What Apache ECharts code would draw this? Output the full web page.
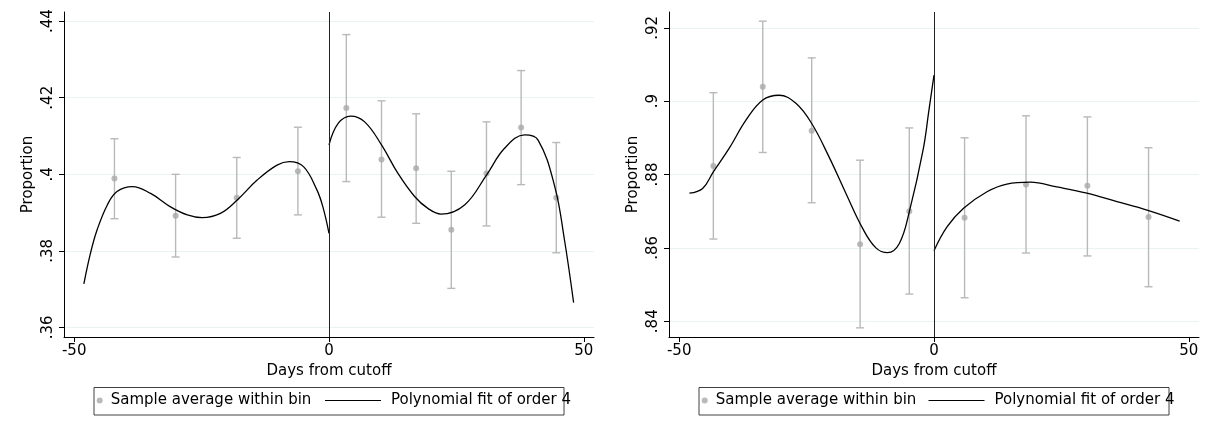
<!DOCTYPE html>
<html><head><meta charset="utf-8">
<script src="https://cdn.jsdelivr.net/npm/echarts@6/dist/echarts.min.js"></script>
<style>html,body{margin:0;padding:0;background:#fff}#c{width:1209px;height:433px}</style>
</head><body><div id="c"></div>
<script>
// ---------- shared axis data ----------
const xTicks = [-50, 0, 50];
const xTickLabels = ['-50', '0', '50'];
const xTitle = 'Days from cutoff';
const yTitle = 'Proportion';
const scatterName = 'Sample average within bin';
const fitName = 'Polynomial fit of order 4';

// ---------- left panel ----------
const leftYTicks = [0.36, 0.38, 0.40, 0.42, 0.44];
const leftYTickLabels = ['.36', '.38', '.4', '.42', '.44'];
const leftBinX = [-42.1, -30.1, -18.1, -6.1, 3.4, 10.3, 17.1, 24.0, 30.9, 37.7, 44.6];
const leftMean = [0.3989, 0.3892, 0.3939, 0.4008, 0.4173, 0.4039, 0.4016, 0.3855, 0.4002, 0.4122, 0.3939];
const leftHi   = [0.4093, 0.4000, 0.4044, 0.4123, 0.4365, 0.4192, 0.4158, 0.4008, 0.4137, 0.4271, 0.4083];
const leftLo   = [0.3884, 0.3784, 0.3833, 0.3894, 0.3981, 0.3888, 0.3872, 0.3702, 0.3865, 0.3973, 0.3795];
const leftFitBeforeX = [-48.1, -46.8, -45.5, -43.5, -41.6, -38.6, -35.0, -31.1, -27.8, -24.9, -21.3, -18.0, -14.1, -10.2, -7.8, -5.0, -2.4, -1.2, 0];
const leftFitBeforeY = [0.3714, 0.3794, 0.3855, 0.3920, 0.3955, 0.3968, 0.3950, 0.3915, 0.3894, 0.3887, 0.3898, 0.3933, 0.3985, 0.4024, 0.4033, 0.4020, 0.3960, 0.3915, 0.3846];
const leftFitAfterX = [0, 1.8, 4.25, 7.0, 10.3, 13.5, 16.8, 19.4, 22.0, 26.6, 30.9, 34.45, 38.4, 41.0, 44.3, 46.2, 48.0];
const leftFitAfterY = [0.4077, 0.4133, 0.4152, 0.4137, 0.4077, 0.4003, 0.3942, 0.3911, 0.3896, 0.3920, 0.3998, 0.4068, 0.4103, 0.4090, 0.3968, 0.3829, 0.3665];

// ---------- right panel ----------
const rightYTicks = [0.84, 0.86, 0.88, 0.90, 0.92];
const rightYTickLabels = ['.84', '.86', '.88', '.9', '.92'];
const rightBinX = [-43.3, -33.6, -24.0, -14.5, -4.85, 6.0, 18.06, 30.1, 42.1];
const rightMean = [0.8823, 0.9039, 0.8919, 0.8610, 0.8700, 0.8682, 0.8773, 0.8769, 0.8684];
const rightHi   = [0.9023, 0.9218, 0.9118, 0.8839, 0.8927, 0.8900, 0.8960, 0.8957, 0.8873];
const rightLo   = [0.8624, 0.8860, 0.8723, 0.8382, 0.8474, 0.8464, 0.8586, 0.8578, 0.8494];
const rightFitBeforeX = [-48.0, -45.4, -43.3, -40.2, -36.9, -33.6, -30.4, -27.1, -24.0, -20.6, -17.3, -14.0, -11.4, -9.1, -6.8, -4.85, -2.1, -1.0, 0];
const rightFitBeforeY = [0.8749, 0.8762, 0.8807, 0.8871, 0.8948, 0.9003, 0.9016, 0.8994, 0.8939, 0.8848, 0.8749, 0.8653, 0.8600, 0.8587, 0.8612, 0.8698, 0.8870, 0.8975, 0.9071];
const rightFitAfterX = [0, 2.55, 5.8, 10.4, 14.3, 18.9, 24.1, 30.0, 35.9, 41.8, 48.2];
const rightFitAfterY = [0.8592, 0.8657, 0.8708, 0.8753, 0.8774, 0.8779, 0.8766, 0.8749, 0.8726, 0.8703, 0.8673];

const cutoff = 0;

// ---------- helpers ----------
const FONT = 'DejaVu Sans';
const zip = (a, b) => a.map((v, i) => [v, b[i]]);
const zip3 = (a, b, c) => a.map((v, i) => [v, b[i], c[i]]);

function xAxisFor(gi) {
  return {
    gridIndex: gi, type: 'value', min: -52, max: 52,
    name: xTitle, nameLocation: 'middle', nameGap: 22,
    nameTextStyle: { fontFamily: FONT, fontSize: 15, color: '#000' },
    axisLine: { show: true, onZero: false, lineStyle: { color: '#000', width: 1 } },
    axisTick: { show: true, length: 5, customValues: xTicks, lineStyle: { color: '#000' } },
    axisLabel: { customValues: xTicks, margin: 7, fontFamily: FONT, fontSize: 15, color: '#000',
      formatter: v => xTickLabels[xTicks.indexOf(v)] },
    splitLine: { show: false }
  };
}
function yAxisFor(gi, min, max, ticks, labels) {
  return {
    gridIndex: gi, type: 'value', min: min, max: max,
    name: yTitle, nameLocation: 'middle', nameGap: 28, nameRotate: 90,
    nameTextStyle: { fontFamily: FONT, fontSize: 15, color: '#000' },
    axisLine: { show: true, onZero: false, lineStyle: { color: '#000', width: 1 } },
    axisTick: { show: true, length: 5, customValues: ticks, lineStyle: { color: '#000' } },
    axisLabel: { customValues: ticks, rotate: 90, margin: 8, fontFamily: FONT, fontSize: 15, color: '#000',
      formatter: v => { let best = 0; ticks.forEach((t, i) => { if (Math.abs(t - v) < Math.abs(ticks[best] - v)) best = i; }); return labels[best]; } },
    splitLine: { show: true, lineStyle: { color: '#eaf2f3', width: 1 } }
  };
}
function errorBars(xi, yi, data) {
  return {
    type: 'custom', name: 'ci', xAxisIndex: xi, yAxisIndex: yi, z: 2, silent: true,
    data: data,
    renderItem: (params, api) => {
      const x = api.value(0), lo = api.value(1), hi = api.value(2);
      const a = api.coord([x, lo]), b = api.coord([x, hi]);
      const w = 4, st = { stroke: '#b9b9b9', lineWidth: 1.4 };
      return { type: 'group', children: [
        { type: 'line', shape: { x1: a[0], y1: a[1], x2: b[0], y2: b[1] }, style: st },
        { type: 'line', shape: { x1: a[0] - w, y1: a[1], x2: a[0] + w, y2: a[1] }, style: st },
        { type: 'line', shape: { x1: b[0] - w, y1: b[1], x2: b[0] + w, y2: b[1] }, style: st }
      ]};
    }
  };
}
function fitLine(xi, yi, data, withCut) {
  const s = {
    type: 'line', name: fitName, xAxisIndex: xi, yAxisIndex: yi, data: data,
    smooth: 0.4, symbol: 'none', showSymbol: false, z: 4,
    lineStyle: { color: '#000', width: 1.3 }, itemStyle: { color: '#000' }
  };
  if (withCut) s.markLine = { silent: true, symbol: 'none', label: { show: false }, animation: false,
    lineStyle: { color: '#222', width: 1, type: 'solid' }, data: [{ xAxis: cutoff }] };
  return s;
}
function scatter(xi, yi, data) {
  return { type: 'scatter', name: scatterName, xAxisIndex: xi, yAxisIndex: yi, data: data,
    symbol: 'circle', symbolSize: 6, itemStyle: { color: '#a9a9a9' }, z: 3 };
}
function legendDot(left) {
  return { left: left, top: 393, padding: 0, itemWidth: 12, itemHeight: 6, selectedMode: false,
    data: [{ name: scatterName, icon: 'circle' }],
    textStyle: { fontFamily: FONT, fontSize: 15, color: '#000' } };
}
function legendLine(left) {
  return { left: left, top: 393, padding: 0, itemWidth: 56, itemHeight: 14, selectedMode: false,
    symbolKeepAspect: true,
    data: [{ name: fitName, icon: 'path://M0,0L56,0L56,1.2L0,1.2Z', itemStyle: { color: '#000' } }],
    textStyle: { fontFamily: FONT, fontSize: 15, color: '#000', padding: [0, 0, 0, 5] } };
}

const chart = echarts.init(document.getElementById('c'), null, { renderer: 'canvas' });
chart.setOption({
  animation: false,
  backgroundColor: '#fff',
  grid: [
    { left: 64, top: 12, width: 530, height: 325 },
    { left: 669, top: 12, width: 530, height: 325 }
  ],
  xAxis: [xAxisFor(0), xAxisFor(1)],
  yAxis: [
    yAxisFor(0, 0.3575, 0.4424, leftYTicks, leftYTickLabels),
    yAxisFor(1, 0.8357, 0.9243, rightYTicks, rightYTickLabels)
  ],
  legend: [legendDot(96.7), legendLine(325), legendDot(701.7), legendLine(928.5)],
  graphic: [
    { type: 'rect', shape: { x: 94, y: 387.5, width: 470, height: 27.5 }, style: { fill: 'none', stroke: '#404040', lineWidth: 1 }, z: -1 },
    { type: 'rect', shape: { x: 699, y: 387.5, width: 470, height: 27.5 }, style: { fill: 'none', stroke: '#404040', lineWidth: 1 }, z: -1 }
  ],
  series: [
    errorBars(0, 0, zip3(leftBinX, leftLo, leftHi)),
    scatter(0, 0, zip(leftBinX, leftMean)),
    fitLine(0, 0, zip(leftFitBeforeX, leftFitBeforeY), true),
    fitLine(0, 0, zip(leftFitAfterX, leftFitAfterY), false),
    errorBars(1, 1, zip3(rightBinX, rightLo, rightHi)),
    scatter(1, 1, zip(rightBinX, rightMean)),
    fitLine(1, 1, zip(rightFitBeforeX, rightFitBeforeY), true),
    fitLine(1, 1, zip(rightFitAfterX, rightFitAfterY), false)
  ]
});
</script></body></html>
